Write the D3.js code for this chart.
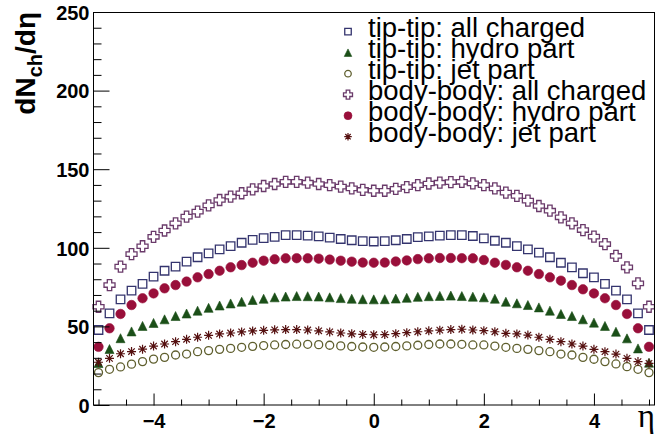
<!DOCTYPE html>
<html>
<head>
<meta charset="utf-8">
<script src="https://cdn.jsdelivr.net/npm/d3@7"></script>
<style>
  html, body { margin: 0; padding: 0; background: #fff; }
  svg { display: block; }
</style>
</head>
<body>
<svg id="chart" width="655" height="440"></svg>
<script>
// Pseudorapidity bins
const eta = [-5.0,-4.8,-4.6,-4.4,-4.2,-4.0,-3.8,-3.6,-3.4,-3.2,-3.0,-2.8,-2.6,-2.4,-2.2,-2.0,-1.8,-1.6,-1.4,-1.2,-1.0,-0.8,-0.6,-0.4,-0.2,
             0.0,0.2,0.4,0.6,0.8,1.0,1.2,1.4,1.6,1.8,2.0,2.2,2.4,2.6,2.8,3.0,3.2,3.4,3.6,3.8,4.0,4.2,4.4,4.6,4.8,5.0];

// dN_ch/deta per configuration and component
const tipTipAll = [47.7,58.3,67.2,72.7,77.0,81.6,85.4,88.0,91.2,94.0,96.5,99.0,101.1,103.2,105.0,106.2,107.0,108.0,108.1,107.8,107.3,106.5,105.6,104.8,104.3,
                   104.0,104.2,104.8,105.6,106.8,107.3,107.8,108.1,108.0,107.5,106.0,104.5,103.2,101.1,99.0,96.9,94.0,90.5,87.6,83.8,81.2,77.0,72.7,67.2,58.3,47.7];
const tipTipHydro = [26.7,35.6,42.5,46.8,50.3,52.2,54.5,56.6,58.2,60.0,61.8,63.3,64.6,65.7,66.8,67.6,68.5,69.0,69.3,69.2,69.0,68.5,68.0,67.6,67.3,
                     67.2,67.3,67.7,68.2,68.8,69.2,69.4,69.6,69.3,68.9,68.5,67.6,65.7,64.7,63.6,62.1,60.0,57.9,56.6,54.5,52.4,50.3,46.6,42.4,36.0,26.9];
const tipTipJet = [20.6,22.7,24.2,26.0,27.6,29.2,30.3,31.8,32.4,33.9,34.6,35.4,36.0,36.7,37.3,37.8,38.2,38.5,38.7,38.6,38.4,38.0,37.6,37.2,36.9,
                   36.7,36.9,37.2,37.6,38.0,38.5,38.8,38.8,38.6,38.2,38.2,37.5,36.7,36.0,35.4,34.6,33.9,32.4,31.8,30.3,29.1,27.6,26.1,24.4,22.7,20.6];
const bodyBodyAll = [62.5,76.3,88.0,96.0,101.0,107.0,111.0,115.6,119.8,123.0,127.0,130.4,132.5,134.7,137.2,139.3,140.6,142.0,142.0,141.4,140.6,139.9,138.9,137.8,136.8,
                     136.3,136.3,137.5,138.6,139.9,140.9,141.4,141.8,142.0,141.0,139.9,137.8,135.1,133.0,130.0,126.6,123.6,119.4,115.6,111.3,107.1,102.4,94.8,87.6,77.4,62.5];
const bodyBodyHydro = [37.0,48.8,57.9,63.6,67.9,71.0,74.2,76.3,78.5,81.2,83.3,85.4,87.6,89.0,90.5,91.8,92.7,93.3,93.4,93.3,93.1,92.5,91.8,91.2,90.6,
                       90.5,90.6,91.3,92.0,92.8,93.3,93.5,93.5,93.4,93.3,92.2,90.5,89.1,87.6,85.4,83.3,81.2,79.1,76.3,73.6,71.0,67.9,63.6,57.9,48.8,37.0];
const bodyBodyJet = [27.2,29.7,32.6,34.0,35.5,37.5,38.8,40.3,41.8,43.1,44.3,45.2,45.8,46.5,47.1,47.5,47.8,48.0,48.0,47.7,47.2,46.5,45.8,45.3,44.9,
                     44.7,44.8,45.4,46.0,46.6,47.2,47.6,48.0,48.2,47.7,47.3,46.6,45.6,45.2,44.5,43.1,41.8,40.3,38.8,37.5,35.4,33.9,32.4,29.7,27.6,26.5];

const seriesNames = ["tip-tip: all charged","tip-tip: hydro part","tip-tip: jet part",
                     "body-body: all charged","body-body: hydro part","body-body: jet part"];
const seriesValues = [tipTipAll, tipTipHydro, tipTipJet, bodyBodyAll, bodyBodyHydro, bodyBodyJet];
const seriesMarkers = ["openSquare","fullTriangle","openCircle","openCross","fullCircle","star"];
const seriesColors = ["#34346e","#1b4f18","#5f5f2e","#6a3a6a","#990f3a","#551010"];

const xMajorTicks = [-4,-2,0,2,4];
const yMajorTicks = [0,50,100,150,200,250];

const W = 655, H = 440;
const svg = d3.select("#chart");
svg.append("rect").attr("width", W).attr("height", H).attr("fill", "#fff");

const x = d3.scaleLinear().domain([-5.1, 5.1]).range([93, 654.5]);
const y = d3.scaleLinear().domain([0, 250]).range([405, 12]);

const FONT = "'Liberation Sans', Arial, Helvetica, sans-serif";

// Marker shapes (centred at origin, s = full size in px)
function markerPath(kind, s) {
  const a = s / 2;
  if (kind === "openSquare") return `M${-a},${-a}H${a}V${a}H${-a}Z`;
  if (kind === "fullTriangle") return `M0,${-a}L${a},${a}L${-a},${a}Z`;
  if (kind === "openCircle" || kind === "fullCircle")
    return `M${a},0A${a},${a} 0 1,1 ${-a},0A${a},${a} 0 1,1 ${a},0Z`;
  if (kind === "openCross") {
    const b = s * 0.2;
    return `M${-b},${-a}H${b}V${-b}H${a}V${b}H${b}V${a}H${-b}V${b}H${-a}V${-b}H${-b}Z`;
  }
  if (kind === "star") {
    const d = a * 0.72;
    return `M${-a},0H${a}M0,${-a}V${a}M${-d},${-d}L${d},${d}M${-d},${d}L${d},${-d}`;
  }
  return "";
}
function styleMarker(sel, kind, color) {
  const filled = kind === "fullTriangle" || kind === "fullCircle";
  sel.attr("fill", filled ? color : "none")
     .attr("stroke", color)
     .attr("stroke-width", filled ? 0.6 : (kind === "star" ? 1.2 : 1.3));
}

// Data markers
const dataSizes = { openSquare: 8.5, fullTriangle: 9, openCircle: 8, openCross: 11, fullCircle: 9.5, star: 9 };
seriesValues.forEach((vals, i) => {
  const kind = seriesMarkers[i];
  const g = svg.append("g");
  g.selectAll("path")
    .data(eta.map((e, j) => [e, vals[j]]))
    .join("path")
    .attr("transform", d => `translate(${x(d[0])},${y(d[1])})`)
    .attr("d", markerPath(kind, dataSizes[kind]))
    .call(styleMarker, kind, seriesColors[i]);
});

// Frame
svg.append("rect")
  .attr("x", 93.5).attr("y", 12.5)
  .attr("width", 654.5 - 93.5).attr("height", 405 - 12.5)
  .attr("fill", "none").attr("stroke", "#000").attr("stroke-width", 1);

// X axis: major ticks with labels, minor ticks every 0.5
const xAxis = d3.axisBottom(x)
  .tickValues(xMajorTicks)
  .tickSizeInner(-12).tickSizeOuter(0).tickPadding(8)
  .tickFormat(d => d < 0 ? "\u2212" + Math.abs(d) : String(d));
const gx = svg.append("g").attr("transform", "translate(0,405.5)").call(xAxis);
const xMinor = d3.range(-10, 11).map(k => k * 0.5).filter(v => !xMajorTicks.includes(v));
svg.append("g").attr("transform", "translate(0,405.5)")
  .call(d3.axisBottom(x).tickValues(xMinor).tickSizeInner(-6).tickSizeOuter(0).tickFormat(""));

// Y axis: major ticks every 50, minor every 10
const yAxis = d3.axisLeft(y)
  .tickValues(yMajorTicks)
  .tickSizeInner(-16).tickSizeOuter(0).tickPadding(4);
const gy = svg.append("g").attr("transform", "translate(93.5,0)").call(yAxis);
const yMinor = d3.range(0, 251, 10).filter(v => !yMajorTicks.includes(v));
svg.append("g").attr("transform", "translate(93.5,0)")
  .call(d3.axisLeft(y).tickValues(yMinor).tickSizeInner(-8).tickSizeOuter(0).tickFormat(""));

svg.selectAll(".domain").remove();
svg.selectAll(".tick line").attr("stroke", "#000").attr("stroke-width", 1);
[gx, gy].forEach(g => g.selectAll("text")
  .attr("font-family", FONT).attr("font-weight", "bold")
  .attr("font-size", 20).attr("fill", "#000"));
gy.selectAll("text").attr("dy", "0.36em");

// Axis titles
svg.append("text")
  .attr("transform", "translate(655,427)")
  .attr("text-anchor", "end")
  .attr("font-family", "'Liberation Serif', 'DejaVu Serif', serif")
  .attr("font-size", 33)
  .text("\u03B7");

const yTitle = svg.append("text")
  .attr("transform", "translate(35,12) rotate(-90)")
  .attr("text-anchor", "end")
  .attr("font-family", FONT).attr("font-weight", "bold")
  .attr("font-size", 28);
yTitle.append("tspan").text("dN");
yTitle.append("tspan").attr("font-size", 20).attr("dy", 7).text("ch");
yTitle.append("tspan").attr("dy", -7).text("/d\u03B7");

// Legend
const legendSizes = { openSquare: 6.5, fullTriangle: 7.5, openCircle: 6.5, openCross: 9, fullCircle: 8, star: 7.5 };
const legend = svg.append("g");
seriesNames.forEach((name, i) => {
  const ly = 31.7 + i * 21;
  const kind = seriesMarkers[i];
  legend.append("path")
    .attr("transform", `translate(348,${ly})`)
    .attr("d", markerPath(kind, legendSizes[kind]))
    .call(styleMarker, kind, seriesColors[i]);
  legend.append("text")
    .attr("x", 368).attr("y", ly + 5)
    .attr("font-family", FONT).attr("font-size", 27.5).attr("fill", "#000")
    .text(name);
});
</script>
</body>
</html>
